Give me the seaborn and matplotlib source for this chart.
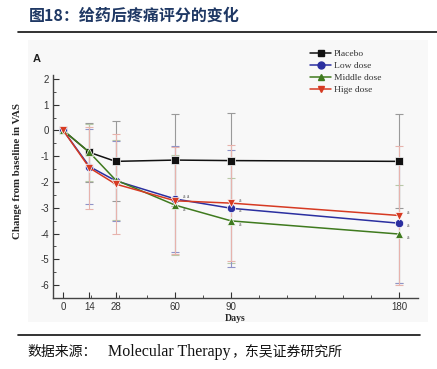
import numpy as np
import pandas as pd
import matplotlib
matplotlib.use("Agg")
import matplotlib.pyplot as plt
from matplotlib.patches import Rectangle
from matplotlib.lines import Line2D
import seaborn as sns

sns.set_theme(style="white")
plt.rcParams['font.family'] = ['Noto Sans CJK SC', 'DejaVu Sans']

days = [0, 14, 28, 60, 90, 180]
series = ["Placebo", "Low dose", "Middle dose", "Hige dose"]
placebo = [0, -0.85, -1.20, -1.15, -1.17, -1.20]
low = [0, -1.40, -1.95, -2.66, -3.02, -3.60]
middle = [0, -0.85, -1.92, -2.90, -3.51, -4.02]
high = [0, -1.45, -2.08, -2.73, -2.82, -3.30]
sd_placebo = [0, 1.15, 1.55, 1.77, 1.85, 1.82]
sd_low = [0, 1.45, 1.55, 2.05, 2.28, 2.30]
sd_middle = [0, 1.10, 1.55, 1.95, 1.65, 1.90]
sd_high = [0, 1.60, 1.93, 2.08, 2.25, 2.70]
tick_days = [0, 14, 28, 60, 90, 180]
sig_low = ["", "", "", "a a", "a", "a"]
sig_middle = ["", "", "", "a", "a", "a"]
sig_high = ["", "", "", "", "a", "a"]

colors = {"Placebo": "#111111", "Low dose": "#2b2fa0", "Middle dose": "#3f7a1e", "Hige dose": "#d63a22"}
ecolors = {"Placebo": "#9a9a9a", "Low dose": "#8f93c8", "Middle dose": "#b9c9a8", "Hige dose": "#e7b3ad"}
markers = {"Placebo": "s", "Low dose": "o", "Middle dose": "^", "Hige dose": "v"}

vals = {"Placebo": placebo, "Low dose": low, "Middle dose": middle, "Hige dose": high}
sds = {"Placebo": sd_placebo, "Low dose": sd_low, "Middle dose": sd_middle, "Hige dose": sd_high}
df = pd.concat([pd.DataFrame({"Days": days, "VAS": vals[s], "sd": sds[s], "Group": s}) for s in series])

fig = plt.figure(figsize=(4.37, 3.69), dpi=100)
fig.patch.set_facecolor("white")
bg = Rectangle((28/437, 1-322/369), 400/437, 282/369, transform=fig.transFigure,
               facecolor="#f8f8f8", edgecolor="none", zorder=-10)
fig.add_artist(bg)

ax = fig.add_axes([53/437, 1-298/369, 365/437, 223/369])
ax.set_zorder(2)
ax.set_facecolor("none")

order_err = ["Placebo", "Middle dose", "Low dose", "Hige dose"]
for s in order_err:
    d = df[df.Group == s]
    ax.errorbar(d.Days, d.VAS, yerr=d.sd, fmt="none", ecolor=ecolors[s], elinewidth=0.8,
                capsize=3, capthick=0.8, zorder=2)

sns.lineplot(data=df, x="Days", y="VAS", hue="Group", style="Group", hue_order=series,
             style_order=series, palette=colors, markers=markers, dashes=False,
             markersize=6, linewidth=1.1, markeredgewidth=0.5, ax=ax, legend=False, zorder=4)

for s, labs, dy in [("Low dose", sig_low, -0.1), ("Middle dose", sig_middle, -0.15), ("Hige dose", sig_high, 0.1)]:
    for x, y, lab in zip(days, vals[s], labs):
        if lab:
            yy = y + (0.08 if lab == "a a" else dy)
            ax.text(x + 4, yy, lab, fontsize=4, color="#555555", va="center",
                    family="Liberation Serif", zorder=5)

ax.set_xlim(-5.5, 190)
ax.set_ylim(-6.5, 2.15)
ax.set_xticks(tick_days)
ax.set_xticklabels([str(t) for t in tick_days], family="Liberation Sans", fontsize=7)
ax.set_xticks(np.arange(0, 181, 15), minor=True)
ax.set_yticks(np.arange(-6, 3, 1))
ax.set_yticklabels([str(v) for v in np.arange(-6, 3, 1)], family="Liberation Sans", fontsize=7)
ax.set_yticks(np.arange(-6.5, 2.1, 0.5), minor=True)
ax.tick_params(axis="both", which="major", direction="in", length=4, width=0.8, colors="#333333", pad=3)
ax.tick_params(axis="both", which="minor", direction="in", length=2, width=0.6, colors="#333333")
ax.tick_params(axis="x", which="both", top=False, bottom=True)
ax.tick_params(axis="y", which="both", left=True, right=False)
for sp in ["top", "right"]:
    ax.spines[sp].set_visible(False)
for sp in ["left", "bottom"]:
    ax.spines[sp].set_color("#444444")
    ax.spines[sp].set_linewidth(1.0)
ax.set_xlabel("Days", family="Liberation Serif", fontweight="bold", fontsize=7, labelpad=1)
ax.set_ylabel("Change from baseline in VAS", family="Liberation Serif", fontweight="bold", fontsize=7.8)
ax.yaxis.set_label_coords(-0.085, 0.57)

handles = [Line2D([], [], color=colors[s], marker=markers[s], markersize=5, linewidth=1.1) for s in series]
leg = ax.legend(handles, series, loc="upper left", bbox_to_anchor=(0.695, 1.13), frameon=False,
                prop={"family": "Liberation Serif", "size": 6.8}, handlelength=2.2, handletextpad=0.3,
                labelspacing=0.35, borderaxespad=0)
for t in leg.get_texts():
    t.set_color("#333333")

fig.text(33/437, 1-62/369, "A", family="Liberation Sans", fontweight="bold", fontsize=8, color="#222222")

fig.text(29/437, 1-16/369, "图18：给药后疼痛评分的变化", fontsize=11.5, fontweight="bold", color="#1f3864",
         va="center", ha="left")
fig.add_artist(Line2D([18/437, 1.0], [1-32/369, 1-32/369], transform=fig.transFigure, color="#111111", linewidth=1.2))
fig.add_artist(Line2D([18/437, 420/437], [1-335/369, 1-335/369], transform=fig.transFigure, color="#111111", linewidth=1.2))

renderer = fig.canvas.get_renderer()
ys = 1 - 352/369
fig.text(27/437, ys, "数据来源：", fontsize=10, color="#111111", va="center",
         family=["Noto Sans CJK SC"])
t2 = fig.text(108/437, ys, "Molecular Therapy", fontsize=11.5, color="#111111", va="center",
              family=["Liberation Serif"])
bb = t2.get_window_extent(renderer)
x3 = bb.x1 / fig.bbox.width + 1/437
fig.text(x3, ys, "，东吴证券研究所", fontsize=10, color="#111111", va="center",
         family=["Noto Sans CJK SC"])

fig.savefig("out.png", dpi=100, facecolor="white")
